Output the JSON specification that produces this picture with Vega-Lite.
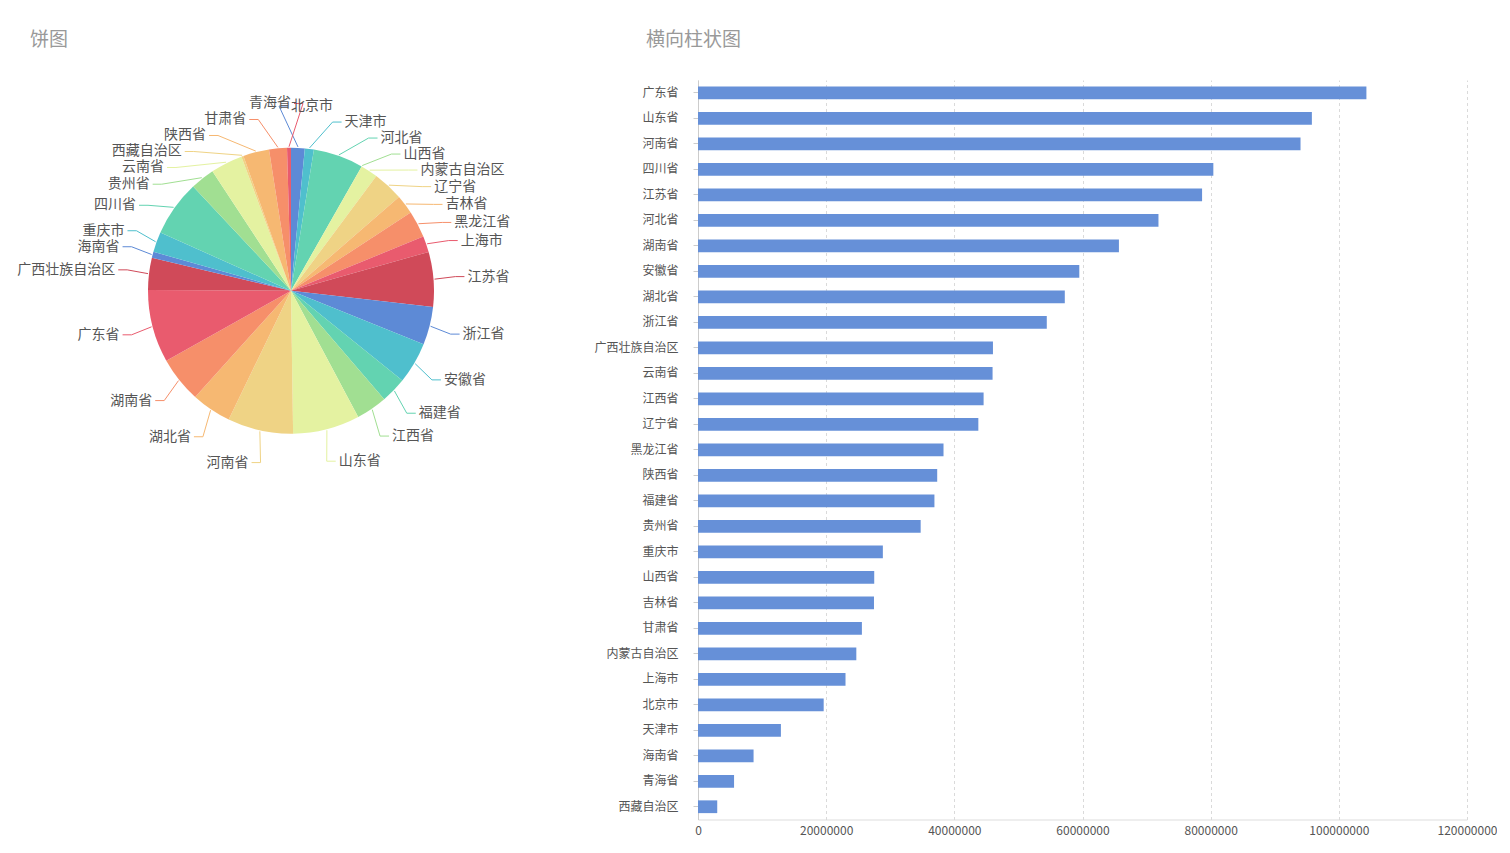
{
  "$schema": "https://vega.github.io/schema/vega-lite/v6.json",
  "padding": {"left": 0, "top": 31, "right": 0, "bottom": 0},
  "bounds": "flush",
  "spacing": 116,
  "config": {
    "font": "Noto Sans CJK SC",
    "view": {"stroke": null}
  },
  "datasets": {
    "prov": [
      {"idx": 1, "name": "北京市", "value": 19612368, "pie": 19612368},
      {"idx": 2, "name": "天津市", "value": 12938224, "pie": 12938224},
      {"idx": 3, "name": "河北省", "value": 71854202, "pie": 71854202},
      {"idx": 4, "name": "山西省", "value": 27500000, "pie": 0},
      {"idx": 5, "name": "内蒙古自治区", "value": 24706321, "pie": 24706321},
      {"idx": 6, "name": "辽宁省", "value": 43746323, "pie": 43746323},
      {"idx": 7, "name": "吉林省", "value": 27462297, "pie": 27462297},
      {"idx": 8, "name": "黑龙江省", "value": 38312224, "pie": 38312224},
      {"idx": 9, "name": "上海市", "value": 23019148, "pie": 23019148},
      {"idx": 10, "name": "江苏省", "value": 78659903, "pie": 78659903},
      {"idx": 11, "name": "浙江省", "value": 54426891, "pie": 54426891},
      {"idx": 12, "name": "安徽省", "value": 59500510, "pie": 59500510},
      {"idx": 13, "name": "福建省", "value": 36894216, "pie": 36894216},
      {"idx": 14, "name": "江西省", "value": 44567475, "pie": 44567475},
      {"idx": 15, "name": "山东省", "value": 95793065, "pie": 95793065},
      {"idx": 16, "name": "河南省", "value": 94023567, "pie": 94023567},
      {"idx": 17, "name": "湖北省", "value": 57237740, "pie": 57237740},
      {"idx": 18, "name": "湖南省", "value": 65683722, "pie": 65683722},
      {"idx": 19, "name": "广东省", "value": 104303132, "pie": 104303132},
      {"idx": 20, "name": "广西壮族自治区", "value": 46026629, "pie": 46026629},
      {"idx": 21, "name": "海南省", "value": 8671518, "pie": 8671518},
      {"idx": 22, "name": "重庆市", "value": 28846170, "pie": 28846170},
      {"idx": 23, "name": "四川省", "value": 80418200, "pie": 80418200},
      {"idx": 24, "name": "贵州省", "value": 34746468, "pie": 34746468},
      {"idx": 25, "name": "云南省", "value": 45966239, "pie": 45966239},
      {"idx": 26, "name": "西藏自治区", "value": 3002166, "pie": 3002166},
      {"idx": 27, "name": "陕西省", "value": 37327378, "pie": 37327378},
      {"idx": 28, "name": "甘肃省", "value": 25575254, "pie": 25575254},
      {"idx": 29, "name": "青海省", "value": 5626722, "pie": 5626722}
    ]
  },
  "hconcat": [
    {
      "width": 582,
      "height": 421.5,
      "title": {"text": "饼图", "anchor": "start", "frame": "group", "dx": 30, "offset": 21, "baseline": "middle", "fontSize": 19, "fontWeight": "normal", "color": "#999"},
      "data": {"name": "prov"},
      "transform": [
        {"stack": "pie", "groupby": [], "sort": [{"field": "idx", "order": "ascending"}], "offset": "normalize", "as": ["p0", "p1"]},
        {"calculate": "(datum.p0 + datum.p1) / 2", "as": "pm"},
        {"calculate": "2 * PI * datum.pm", "as": "ang"},
        {"calculate": "datum.pm < 0.5 ? 1 : -1", "as": "side"},
        {"calculate": "-176 * cos(datum.ang)", "as": "yn"},
        {"window": [{"op": "row_number", "as": "rk"}], "groupby": ["side"], "sort": [{"field": "yn", "order": "ascending"}]},
        {"calculate": "datum.yn - 16 * datum.rk", "as": "q"},
        {"window": [{"op": "max", "field": "q", "as": "qmax"}], "groupby": ["side"], "sort": [{"field": "yn", "order": "ascending"}], "frame": [null, 0]},
        {"window": [{"op": "min", "field": "q", "as": "qmin"}], "groupby": ["side"], "sort": [{"field": "yn", "order": "ascending"}], "frame": [0, null]},
        {"calculate": "16 * datum.rk + 0.75 * datum.qmax + 0.25 * datum.qmin", "as": "ya"},
        {"calculate": "datum.side * sqrt(max(0, 177 * 177 - datum.ya * datum.ya))", "as": "xa"},
        {"calculate": "144 * sin(datum.ang)", "as": "ex"},
        {"calculate": "-144 * cos(datum.ang)", "as": "ey"},
        {"calculate": "datum.xa - datum.side * 3", "as": "xe"},
        {"calculate": "datum.xa - datum.side * 12", "as": "xm"}
      ],
      "encoding": {
        "color": {
          "field": "name",
          "type": "nominal",
          "legend": null,
          "scale": {
            "domain": ["北京市", "天津市", "河北省", "山西省", "内蒙古自治区", "辽宁省", "吉林省", "黑龙江省", "上海市", "江苏省", "浙江省", "安徽省", "福建省", "江西省", "山东省", "河南省", "湖北省", "湖南省", "广东省", "广西壮族自治区", "海南省", "重庆市", "四川省", "贵州省", "云南省", "西藏自治区", "陕西省", "甘肃省", "青海省"],
            "range": ["#5d8ad6", "#4fbfcd", "#63d3b1", "#a1df92", "#e4f2a1", "#efd385", "#f6b872", "#f68f6a", "#e95b6e", "#d04a59"]
          }
        }
      },
      "layer": [
        {
          "mark": {"type": "arc", "outerRadius": 143},
          "encoding": {
            "theta": {"field": "p0", "type": "quantitative", "scale": {"domain": [0, 1]}},
            "theta2": {"field": "p1"}
          }
        },
        {
          "mark": {"type": "rule", "strokeWidth": 1},
          "encoding": {
            "x": {"field": "ex", "type": "quantitative", "axis": null, "scale": {"domain": [-291, 291], "nice": false, "zero": false}},
            "y": {"field": "ey", "type": "quantitative", "axis": null, "scale": {"domain": [-210.75, 210.75], "reverse": true, "nice": false, "zero": false}},
            "x2": {"field": "xm"},
            "y2": {"field": "ya"}
          }
        },
        {
          "mark": {"type": "rule", "strokeWidth": 1},
          "encoding": {
            "x": {"field": "xm", "type": "quantitative", "axis": null, "scale": {"domain": [-291, 291], "nice": false, "zero": false}},
            "y": {"field": "ya", "type": "quantitative", "axis": null, "scale": {"domain": [-210.75, 210.75], "reverse": true, "nice": false, "zero": false}},
            "x2": {"field": "xe"}
          }
        },
        {
          "transform": [{"filter": "datum.side > 0"}],
          "mark": {"type": "text", "align": "left", "baseline": "middle", "fontSize": 14},
          "encoding": {
            "x": {"field": "xa", "type": "quantitative", "axis": null, "scale": {"domain": [-291, 291], "nice": false, "zero": false}},
            "y": {"field": "ya", "type": "quantitative", "axis": null, "scale": {"domain": [-210.75, 210.75], "reverse": true, "nice": false, "zero": false}},
            "text": {"field": "name"},
            "color": {"value": "#555"}
          }
        },
        {
          "transform": [{"filter": "datum.side < 0"}],
          "mark": {"type": "text", "align": "right", "baseline": "middle", "fontSize": 14},
          "encoding": {
            "x": {"field": "xa", "type": "quantitative", "axis": null, "scale": {"domain": [-291, 291], "nice": false, "zero": false}},
            "y": {"field": "ya", "type": "quantitative", "axis": null, "scale": {"domain": [-210.75, 210.75], "reverse": true, "nice": false, "zero": false}},
            "text": {"field": "name"},
            "color": {"value": "#555"}
          }
        }
      ]
    },
    {
      "width": 769,
      "height": 739.5,
      "title": {"text": "横向柱状图", "anchor": "start", "frame": "group", "dx": -52, "offset": 21, "baseline": "middle", "fontSize": 19, "fontWeight": "normal", "color": "#999"},
      "data": {"name": "prov"},
      "mark": {"type": "bar", "color": "#6690d8"},
      "encoding": {
        "y": {
          "field": "name",
          "type": "nominal",
          "sort": "-x",
          "title": null,
          "scale": {"paddingInner": 0.5, "paddingOuter": 0.25},
          "axis": {"labelFontSize": 12, "labelColor": "#555", "tickSize": 5, "tickColor": "#ccc", "domainColor": "#ccc", "labelPadding": 15, "grid": false}
        },
        "x": {
          "field": "value",
          "type": "quantitative",
          "title": null,
          "scale": {"domain": [0, 120000000], "nice": false},
          "axis": {"values": [0, 20000000, 40000000, 60000000, 80000000, 100000000, 120000000], "format": "d", "labelFontSize": 12, "labelColor": "#555", "tickSize": 0, "labelPadding": 6, "domainColor": "#ddd", "grid": true, "gridColor": "#dadada", "gridDash": [3, 3], "labelFlush": false}
        }
      }
    }
  ]
}
